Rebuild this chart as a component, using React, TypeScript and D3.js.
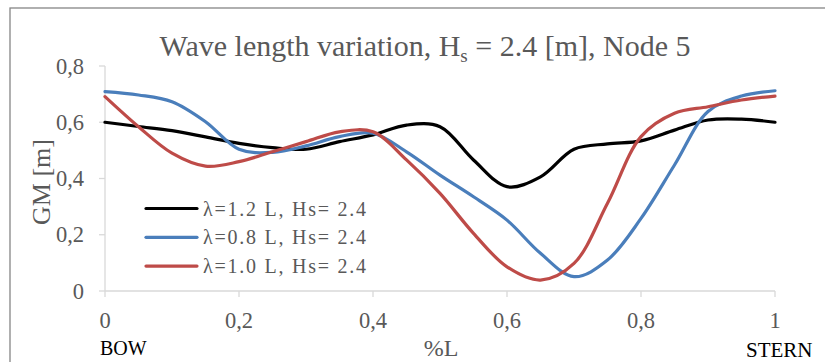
import React from "react";
import * as d3 from "d3";

const xs = [0, 0.05, 0.1, 0.15, 0.2, 0.25, 0.3, 0.35, 0.4, 0.45, 0.5, 0.55, 0.6, 0.65, 0.7, 0.75, 0.8, 0.85, 0.9, 0.95, 1.0];
const black12 = [0.6, 0.585, 0.57, 0.548, 0.525, 0.51, 0.504, 0.531, 0.555, 0.59, 0.584, 0.466, 0.371, 0.406, 0.504, 0.523, 0.534, 0.572, 0.608, 0.611, 0.6];
const blue08 = [0.709, 0.697, 0.673, 0.602, 0.504, 0.493, 0.516, 0.549, 0.561, 0.495, 0.412, 0.335, 0.252, 0.134, 0.051, 0.11, 0.258, 0.448, 0.638, 0.693, 0.712];
const red10 = [0.691, 0.584, 0.49, 0.444, 0.46, 0.495, 0.531, 0.566, 0.566, 0.466, 0.347, 0.205, 0.086, 0.039, 0.098, 0.312, 0.549, 0.632, 0.655, 0.679, 0.693];
const xTicks = [0, 0.2, 0.4, 0.6, 0.8, 1];
const yTicks = [0, 0.2, 0.4, 0.6, 0.8];
const seriesNames = ["λ=1.2 L, Hs= 2.4", "λ=0.8 L, Hs= 2.4", "λ=1.0 L, Hs= 2.4"];
const seriesColors = ["#000000", "#4a7ebb", "#be4b48"];
const seriesData = [black12, blue08, red10];

const fmt = (v: number) => (v === 0 || v === 1 ? String(v) : v.toFixed(1).replace(".", ","));

export default function App() {
  const x = d3.scaleLinear().domain([0, 1]).range([105, 775]);
  const y = d3.scaleLinear().domain([0, 0.8]).range([291, 66]);
  const line = d3
    .line<number>()
    .x((_, i) => x(xs[i]))
    .y((d) => y(d))
    .curve(d3.curveCatmullRom.alpha(0.5));
  const serif = "'Liberation Serif', 'Times New Roman', serif";
  const gray = "#595959";
  return (
    <svg width={825} height={362} style={{ position: "absolute", left: 0, top: 0, background: "#fff" }} fontFamily={serif}>
      <rect x={10} y={8} width={900} height={400} fill="#fff" stroke="#868686" strokeWidth={1.3} />
      <text x={425} y={56} textAnchor="middle" fontSize={30} fill={gray}>
        Wave length variation, H
        <tspan fontSize={19} dy={6}>s</tspan>
        <tspan dy={-6}> = 2.4 [m], Node 5</tspan>
      </text>
      {/* axes */}
      <line x1={x(0)} x2={x(0)} y1={y(0.8)} y2={y(0)} stroke="#d9d9d9" strokeWidth={1.3} />
      <line x1={x(0)} x2={x(1)} y1={y(0)} y2={y(0)} stroke="#d9d9d9" strokeWidth={1.3} />
      {yTicks.map((t) => (
        <g key={"y" + t}>
          <line x1={x(0) - 6} x2={x(0)} y1={y(t)} y2={y(t)} stroke="#d9d9d9" strokeWidth={1.3} />
          <text x={84} y={y(t) + 7.5} textAnchor="end" fontSize={22.5} fill={gray}>
            {fmt(t)}
          </text>
        </g>
      ))}
      {xTicks.map((t) => (
        <g key={"x" + t}>
          <line x1={x(t)} x2={x(t)} y1={y(0)} y2={y(0) + 6} stroke="#d9d9d9" strokeWidth={1.3} />
          <text x={x(t)} y={328} textAnchor="middle" fontSize={22.5} fill={gray}>
            {fmt(t)}
          </text>
        </g>
      ))}
      <text transform="translate(50,182) rotate(-90)" textAnchor="middle" fontSize={26} fill={gray}>
        GM [m]
      </text>
      <text x={100} y={355} fontSize={20} fill="#000">BOW</text>
      <text x={441} y={356} textAnchor="middle" fontSize={24} fill={gray}>%L</text>
      <text x={746} y={357} fontSize={21} fill="#000">STERN</text>
      {seriesData.map((d, i) => (
        <path key={i} d={line(d) || ""} fill="none" stroke={seriesColors[i]} strokeWidth={3.2} strokeLinejoin="round" strokeLinecap="round" />
      ))}
      {seriesNames.map((n, i) => (
        <g key={n}>
          <line x1={146} x2={197} y1={208.5 + i * 28.8} y2={208.5 + i * 28.8} stroke={seriesColors[i]} strokeWidth={3.2} strokeLinecap="round" />
          <text x={203} y={208.5 + i * 28.8 + 7} fontSize={20} fill={gray} textLength={163} lengthAdjust="spacing">
            {n}
          </text>
        </g>
      ))}
    </svg>
  );
}
